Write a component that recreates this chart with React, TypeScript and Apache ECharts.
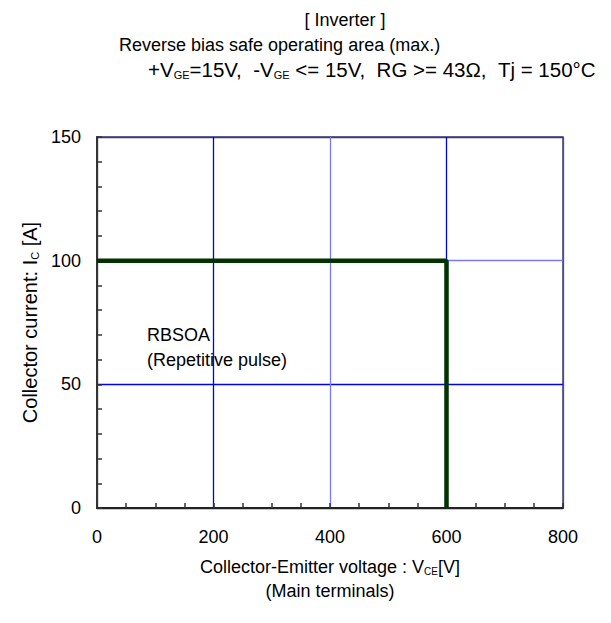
import React, { useEffect, useRef } from 'react';
import * as echarts from 'echarts';

// Axis ranges / ticks
const xMin = 0;
const xMax = 800;
const xInterval = 200;
const yMin = 0;
const yMax = 150;
const yInterval = 50;

// RBSOA boundary (max.)
const rbsoaVoltage = [0, 600, 600];
const rbsoaCurrent = [100, 100, 0];

// Texts
const titleLine1 = '[ Inverter ]';
const titleLine2 = 'Reverse bias safe operating area (max.)';
const titleLine3 =
  '{n|+V}{s|GE}{n|=15V,  -V}{s|GE}{n| <= 15V,  RG >= 43Ω,  Tj = 150°C}';
const xAxisName = '{n|Collector-Emitter voltage : V}{s|CE}{n|[V]}\n{n|(Main terminals)}';
const yAxisName = '{n|Collector current: I}{s|C}{n| [A]}';
const annotation = 'RBSOA\n(Repetitive pulse)';

const FONT = "'Liberation Sans', Arial, sans-serif";
const FS = 18;

const rich = {
  n: { fontFamily: FONT, fontSize: FS, color: '#000', lineHeight: 24, verticalAlign: 'bottom' },
  s: { fontFamily: FONT, fontSize: 10, color: '#000', lineHeight: 21, verticalAlign: 'bottom' },
};
const richY = {
  n: { fontFamily: FONT, fontSize: 20, color: '#000', lineHeight: 26, verticalAlign: 'bottom' },
  s: { fontFamily: FONT, fontSize: 11, color: '#000', lineHeight: 23, verticalAlign: 'bottom' },
};
const rich3 = {
  n: { fontFamily: FONT, fontSize: 20.5, color: '#000', lineHeight: 26, verticalAlign: 'bottom' },
  s: { fontFamily: FONT, fontSize: 11, color: '#000', lineHeight: 23, verticalAlign: 'bottom' },
};

export default function App() {
  const ref = useRef<HTMLDivElement>(null);
  useEffect(() => {
    document.body.style.margin = '0';
    if (!ref.current) return;
    const chart = echarts.init(ref.current, null, { renderer: 'svg' });
    const data = rbsoaVoltage.map((v, i) => [v, rbsoaCurrent[i]]);
    chart.setOption({
      animation: false,
      backgroundColor: '#fff',
      grid: {
        left: 97,
        right: 48,
        top: 137,
        bottom: 115,
        show: true,
        borderColor: '#3a3a78',
        borderWidth: 1.5,
      },
      graphic: [
        {
          type: 'text',
          x: 345,
          y: 20,
          style: {
            text: titleLine1,
            fontFamily: FONT,
            fontSize: FS,
            fill: '#000',
            textAlign: 'center',
            textVerticalAlign: 'middle',
          },
        },
        {
          type: 'text',
          x: 119,
          y: 45,
          style: {
            text: titleLine2,
            fontFamily: FONT,
            fontSize: FS,
            fill: '#000',
            textAlign: 'left',
            textVerticalAlign: 'middle',
          },
        },
        {
          type: 'text',
          x: 148,
          y: 67,
          style: {
            text: titleLine3,
            rich: rich3,
            fontFamily: FONT,
            fontSize: 20.5,
            fill: '#000',
            textAlign: 'left',
            textVerticalAlign: 'middle',
          },
        },
        {
          type: 'text',
          x: 147,
          y: 347,
          z: 10,
          style: {
            text: annotation,
            fontFamily: FONT,
            fontSize: FS,
            lineHeight: 25,
            fill: '#000',
            textAlign: 'left',
            textVerticalAlign: 'middle',
          },
        },
      ],
      xAxis: {
        type: 'value',
        min: xMin,
        max: xMax,
        interval: xInterval,
        name: xAxisName,
        nameLocation: 'middle',
        nameGap: 44,
        nameTextStyle: { rich, fontFamily: FONT, fontSize: FS, lineHeight: 24 },
        axisLine: { show: true, onZero: false, lineStyle: { color: '#222', width: 2 } },
        axisTick: { show: true, inside: true, length: 5, lineStyle: { color: '#333', width: 1.5 } },
        minorTick: { show: true, splitNumber: 4, length: 5, lineStyle: { color: '#333', width: 1.5 } },
        axisLabel: { fontFamily: FONT, fontSize: FS, color: '#000', margin: 20 },
        splitLine: {
          show: true,
          lineStyle: { color: ['#222', '#0000e0', '#7878ff', '#0000ff', '#555'], width: 1.3 },
        },
      },
      yAxis: {
        type: 'value',
        min: yMin,
        max: yMax,
        interval: yInterval,
        name: yAxisName,
        nameLocation: 'middle',
        nameRotate: 90,
        nameGap: 57,
        nameTextStyle: { rich: richY, fontFamily: FONT, fontSize: 20 },
        axisLine: { show: true, onZero: false, lineStyle: { color: '#333', width: 2 } },
        axisTick: { show: true, inside: true, length: 5, lineStyle: { color: '#333', width: 1.5 } },
        minorTick: { show: true, splitNumber: 5, length: 5, lineStyle: { color: '#333', width: 1.5 } },
        axisLabel: { fontFamily: FONT, fontSize: FS, color: '#000', margin: 16 },
        splitLine: {
          show: true,
          lineStyle: { color: ['#222', '#0000ff', '#7878ff', '#3a3a78'], width: 1.3 },
        },
      },
      series: [
        {
          type: 'line',
          data,
          symbol: 'none',
          lineStyle: { color: '#003300', width: 4.5 },
          z: 5,
        },
      ],
    });
    return () => chart.dispose();
  }, []);
  return <div ref={ref} style={{ width: 611, height: 623 }} />;
}
